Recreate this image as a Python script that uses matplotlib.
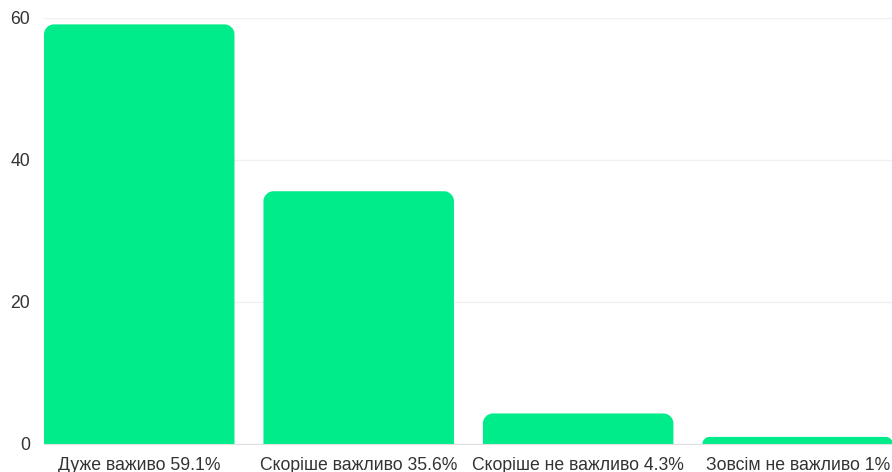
import numpy as np
import matplotlib.pyplot as plt
from matplotlib.path import Path
from matplotlib.patches import PathPatch

plt.rcParams['font.family'] = ['Liberation Sans', 'DejaVu Sans']

categories = ["Дуже важиво 59.1%", "Скоріше важливо 35.6%", "Скоріше не важливо 4.3%", "Зовсім не важливо 1%"]
values = [59.1, 35.6, 4.3, 1.0]
yticks = [0, 20, 40, 60]

W, H = 892, 472
fig = plt.figure(figsize=(W / 100, H / 100), dpi=100)
left, right, top, bottom = 44, 892, 18, 444
ax = fig.add_axes([left / W, 1 - bottom / H, (right - left) / W, (bottom - top) / H])

bar_w = 0.868
xs = np.arange(len(categories))
bars = ax.bar(xs, values, width=bar_w, color='none', edgecolor='none')
ax.set_xlim(-bar_w / 2, 3.43)
ax.set_ylim(0, 60)

# rounded top corners, radius in pixels converted to data units
px_x = (ax.get_xlim()[1] - ax.get_xlim()[0]) / (right - left)
px_y = 60 / (bottom - top)
r_px = 10
k = 0.5523
for b in bars:
    x0, w, h = b.get_x(), b.get_width(), b.get_height()
    x1 = x0 + w
    r = min(r_px, h / px_y)
    rx, ry = r * px_x, r * px_y
    verts = [(x0, 0), (x0, h - ry),
             (x0, h - ry + k * ry), (x0 + rx - k * rx, h), (x0 + rx, h),
             (x1 - rx, h),
             (x1 - rx + k * rx, h), (x1, h - ry + k * ry), (x1, h - ry),
             (x1, 0), (x0, 0)]
    codes = [Path.MOVETO, Path.LINETO,
             Path.CURVE4, Path.CURVE4, Path.CURVE4,
             Path.LINETO,
             Path.CURVE4, Path.CURVE4, Path.CURVE4,
             Path.LINETO, Path.CLOSEPOLY]
    ax.add_patch(PathPatch(Path(verts, codes), facecolor='#00ec8a', edgecolor='none', zorder=2))

ax.set_yticks(yticks)
ax.set_yticklabels([str(t) for t in yticks])
ax.set_xticks(xs)
ax.set_xticklabels(categories)
ax.tick_params(axis='both', length=0, labelsize=12.7, labelcolor='#333333')
ax.tick_params(axis='y', pad=10)
ax.tick_params(axis='x', pad=9)
ax.grid(axis='y', color='#f0f0f0', linewidth=1, zorder=0)
ax.set_axisbelow(True)
for s in ['top', 'right', 'left']:
    ax.spines[s].set_visible(False)
ax.spines['bottom'].set_color('#e0e0e0')

fig.savefig('out.png', dpi=100)
